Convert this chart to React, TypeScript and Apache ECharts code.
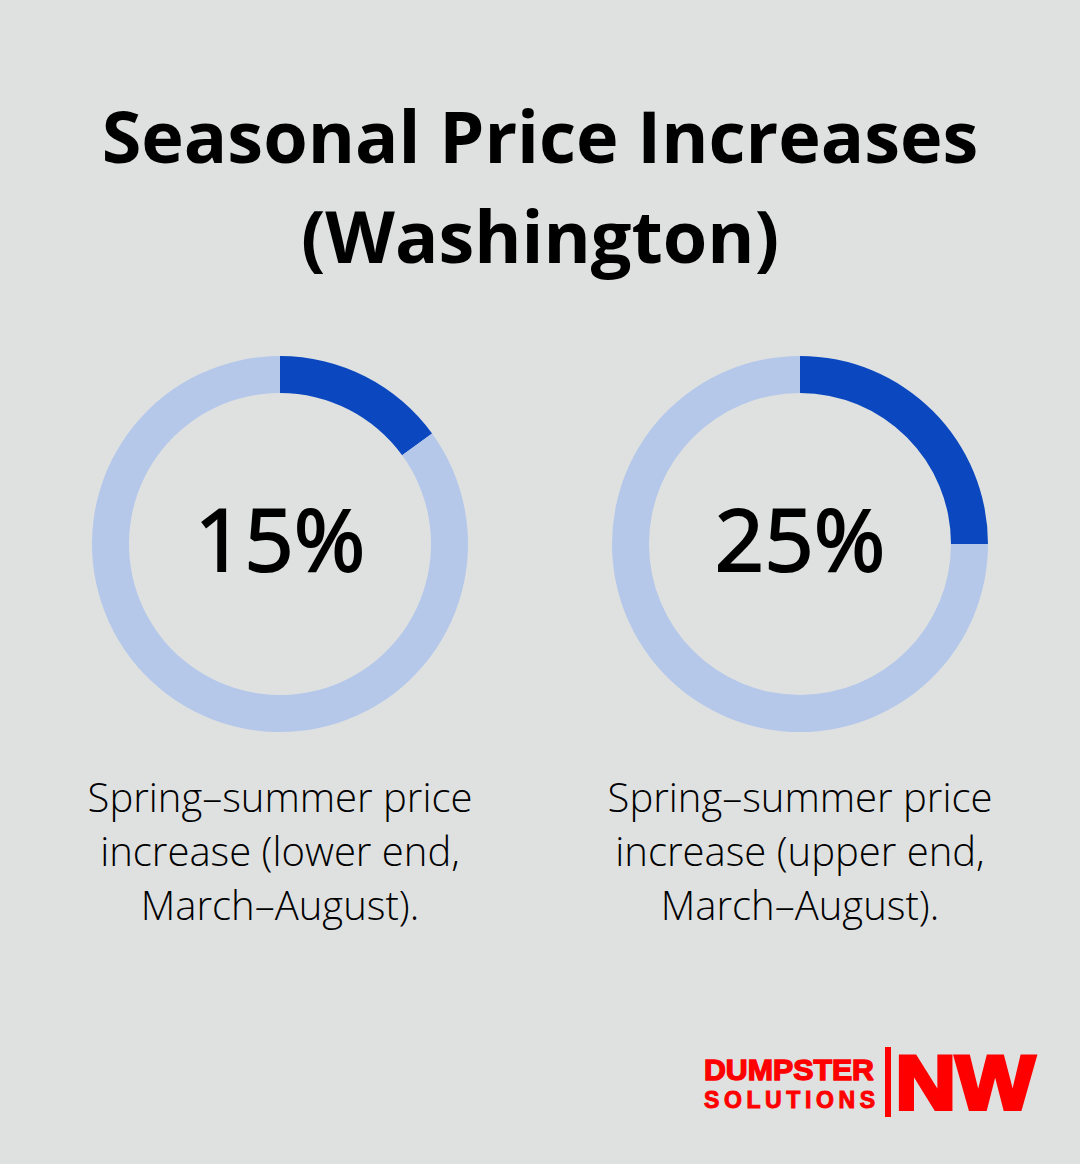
import React, { useRef, useEffect } from 'react';
import * as echarts from 'echarts';

const titleLines = ['Seasonal Price Increases', '(Washington)'];
const increases = [15, 25];
const captions = [
  ['Spring–summer price', 'increase (lower end,', 'March–August).'],
  ['Spring–summer price', 'increase (upper end,', 'March–August).'],
];
const centers = [280, 800];

const logoLetters = ['S', 'O', 'L', 'U', 'T', 'I', 'O', 'N', 'S'];
const logoWidths = [0.667, 0.778, 0.611, 0.722, 0.611, 0.278, 0.778, 0.722, 0.667];

const FONT = '"Open Sans", sans-serif';
const LOGO_FONT = '"Liberation Sans", Arial, sans-serif';
const RED = '#ff0000';

const App = () => {
  const chartRef = useRef<HTMLDivElement>(null);

  useEffect(() => {
    document.body.style.margin = '0';
    const myChart = echarts.init(chartRef.current, null, { renderer: 'svg' });

    const texts: any[] = [];

    titleLines.forEach((line, i) => {
      texts.push({
        type: 'text',
        x: 540,
        y: 135 + i * 100,
        style: {
          text: line,
          fill: '#000',
          font: `700 72px ${FONT}`,
          textAlign: 'center',
          textVerticalAlign: 'middle',
        },
      });
    });

    centers.forEach((cx, i) => {
      texts.push({
        type: 'text',
        x: cx,
        y: 537,
        style: {
          text: `${increases[i]}%`,
          fill: '#000',
          stroke: '#000',
          lineWidth: 2,
          font: `400 86.5px ${FONT}`,
          textAlign: 'center',
          textVerticalAlign: 'middle',
        },
      });
      captions[i].forEach((line, j) => {
        texts.push({
          type: 'text',
          x: cx,
          y: 796 + j * 54,
          style: {
            text: line,
            fill: '#000',
            font: `300 40px ${FONT}`,
            textAlign: 'center',
            textVerticalAlign: 'middle',
          },
        });
      });
    });

    // logo
    texts.push({
      type: 'text',
      x: 704,
      y: 1070,
      scaleX: 1.01,
      style: {
        text: 'DUMPSTER',
        fill: RED,
        stroke: RED,
        lineWidth: 1.4,
        font: `700 30px ${LOGO_FONT}`,
        textAlign: 'left',
        textVerticalAlign: 'middle',
      },
    });
    let letterX = 704;
    logoLetters.forEach((ch, i) => {
      texts.push({
        type: 'text',
        x: letterX,
        y: 1100,
        style: {
          text: ch,
          fill: RED,
          stroke: RED,
          lineWidth: 1,
          font: `700 23px ${LOGO_FONT}`,
          textAlign: 'left',
          textVerticalAlign: 'middle',
        },
      });
      letterX += logoWidths[i] * 23 + 4.6;
    });
    texts.push({
      type: 'rect',
      shape: { x: 885, y: 1047, width: 6, height: 70 },
      style: { fill: RED },
    });
    texts.push({
      type: 'text',
      x: 895.5,
      y: 1083,
      scaleX: 1.1,
      style: {
        text: 'NW',
        fill: RED,
        stroke: RED,
        lineWidth: 4,
        font: `700 76px ${LOGO_FONT}`,
        textAlign: 'left',
        textVerticalAlign: 'middle',
      },
    });

    const option = {
      animation: false,
      backgroundColor: '#dfe1e0',
      series: increases.map((value, i) => ({
        type: 'pie',
        silent: true,
        center: [centers[i], 544],
        radius: [151, 188],
        startAngle: 90,
        clockwise: true,
        label: { show: false },
        labelLine: { show: false },
        itemStyle: { borderWidth: 0 },
        data: [
          { value, itemStyle: { color: '#0b48c0' } },
          { value: 100 - value, itemStyle: { color: '#b5c8ea' } },
        ],
      })),
      graphic: { elements: texts },
    };

    myChart.setOption(option);

    return () => {
      myChart.dispose();
    };
  }, []);

  return <div ref={chartRef} style={{ width: '1080px', height: '1164px' }} />;
};

export default App;
